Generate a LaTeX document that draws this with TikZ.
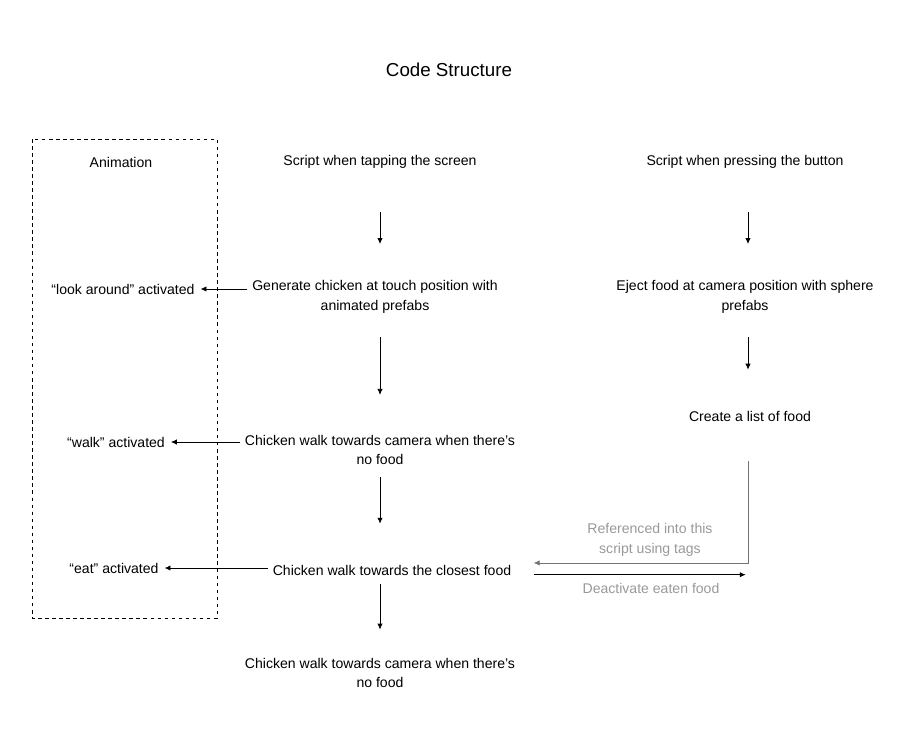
\documentclass[tikz,border=0pt]{standalone}
\usepackage{fontspec}
\setmainfont{Liberation Sans}
\usetikzlibrary{arrows.meta}

\begin{document}
\begin{tikzpicture}[x=0.03cm,y=-0.03cm,
    txt/.style={align=center,inner sep=0pt,font=\fontsize{12}{17}\selectfont},
    note/.style={txt,text=black!40},
    flow/.style={-{Latex[length=5pt,width=4.5pt]},line width=0.6pt}]
  \useasboundingbox (0,0) rectangle (900,750);

  \node[font=\fontsize{16}{20}\selectfont] (title) at (449,70) {Code Structure};
  \draw[dashed,line width=0.6pt] (32,139) rectangle (217,618);

  \def \Nodes {
    anim/121/162/{Animation},
    tap/380/162/{Script when tapping the screen},
    press/745/162/{Script when pressing the button},
    gen/375/297/{Generate chicken at touch position with\\animated prefabs},
    look/123/289/{“look around” activated},
    eject/745/297/{Eject food at camera position with sphere\\prefabs},
    list/750/416/{Create a list of food},
    walk/380/450/{Chicken walk towards camera when there’s\\no food},
    walkanim/116/442/{“walk” activated},
    closest/392/570/{Chicken walk towards the closest food},
    eatanim/114/568/{“eat” activated},
    again/380/673/{Chicken walk towards camera when there’s\\no food}}

  \foreach \id / \x / \y / \w in \Nodes {
    \node[txt] (\id) at (\x, \y) {\w};
  }
  \node[note] (ref) at (650,540) {Referenced into this\\script using tags};
  \node[note] (eaten) at (651,588) {Deactivate eaten food};

  % down arrows: from / to / column / gap at start / gap at end
  \def \Edges {
    tap/gen/380/37pt/31pt,
    press/eject/748/37pt/31pt,
    eject/list/748/20pt/35pt,
    gen/walk/380/20pt/34pt,
    walk/closest/380/10pt/35pt,
    closest/again/380/7pt/24pt}
  \foreach \a / \b / \x / \s / \e in \Edges {
    \draw[flow,shorten <=\s,shorten >=\e] (\x,0 |- \a.south) -- (\x,0 |- \b.north);
  }

  % animations triggered
  \foreach \a / \b in {gen/look, walk/walkanim, closest/eatanim} {
    \draw[flow,shorten <=4pt,shorten >=5pt] (\a.west |- \b.east) -- (\b.east);
  }

  \draw[flow,draw=black!55,shorten <=34pt,shorten >=19pt]
    (748,0 |- list.south) |- ([yshift=6pt]closest.east);
  \draw[flow,shorten <=19pt,shorten >=2pt]
    ([yshift=-4pt]closest.east) -- ([yshift=-4pt]closest.east -| 748,0);
\end{tikzpicture}
\end{document}
